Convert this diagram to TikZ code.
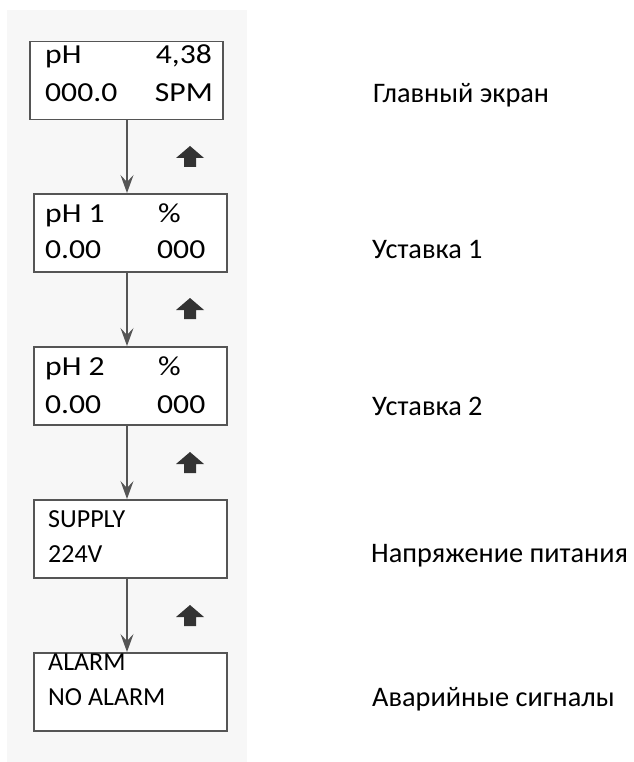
\documentclass[tikz,border=0pt]{standalone}
\usepackage{fontspec}
\setmainfont{Carlito}
\newfontfamily\widefont[FakeStretch=1.15]{Carlito}
\usetikzlibrary{arrows.meta}
\definecolor{boxline}{HTML}{555555}
\definecolor{bgfill}{HTML}{F7F7F7}
\tikzset{
  box/.style={draw=boxline, line width=1.5pt, fill=white, inner sep=0pt, minimum width=193pt, minimum height=78pt, anchor=north west},
  big/.style={inner sep=0pt, font=\widefont\fontsize{27.5}{33}\selectfont},
  small/.style={inner sep=0pt, font=\fontsize{26}{31}\selectfont},
  lab/.style={inner sep=0pt, anchor=base west, font=\fontsize{28.3}{34}\selectfont},
  darr/.style={draw=boxline, line width=1.2pt, -{Stealth[length=18pt, width=13pt, inset=7pt]}},
  uparrow/.pic={\fill[black!80] (0,-11) -- (14,1) -- (6,1) -- (6,10) -- (-6,10) -- (-6,1) -- (-14,1) -- cycle;}
}
\begin{document}
\begin{tikzpicture}[x=1pt, y=-1pt]
\useasboundingbox (0,0) rectangle (633,762);
\fill[bgfill] (7,10) rectangle (247,762);
% boxes
\node[box] (b1) at (29,41) {};
\node[box] (b2) at (33,193) {};
\node[box] (b3) at (33,346) {};
\node[box] (b4) at (33,499) {};
\node[box] (b5) at (33,652) {};
% box texts
\node[big, anchor=base west] (t1a) at (45,64) {pH};
\node[big, anchor=base east] (t1b) at (212,64) {4,38};
\node[big, anchor=base west] (t1c) at (45,102) {000.0};
\node[big, anchor=base east] (t1d) at (213,102) {SPM};
\node[big, anchor=base west] (t2a) at (45,222) {pH 1};
\node[big, anchor=base west] (t2b) at (158,222) {\%};
\node[big, anchor=base west] (t2c) at (45,258) {0.00};
\node[big, anchor=base west] (t2d) at (157,258) {000};
\node[big, anchor=base west] (t3a) at (45,375) {pH 2};
\node[big, anchor=base west] (t3b) at (158,375) {\%};
\node[big, anchor=base west] (t3c) at (45,413) {0.00};
\node[big, anchor=base west] (t3d) at (157,413) {000};
\node[small, anchor=base west] (t4a) at (48,527) {SUPPLY};
\node[small, anchor=base west] (t4b) at (48,562) {224V};
\node[small, anchor=base west] (t5a) at (48,670) {ALARM};
\node[small, anchor=base west] (t5b) at (48,705) {NO ALARM};
% right labels
\node[lab] (l1) at (373,103) {Главный экран};
\node[lab] (l2) at (372,258) {Уставка 1};
\node[lab] (l3) at (372,415) {Уставка 2};
\node[lab] (l4) at (371,562) {Напряжение питания};
\node[lab] (l5) at (372,706) {Аварийные сигналы};
% down connectors
\coordinate (xa) at (127,0);
\draw[darr] (b1.south -| xa) -- (b2.north -| xa);
\draw[darr] (b2.south -| xa) -- (b3.north -| xa);
\draw[darr] (b3.south -| xa) -- (b4.north -| xa);
\draw[darr] (b4.south -| xa) -- (b5.north -| xa);
% up arrows
\pic at (190,157) {uparrow};
\pic at (190,309) {uparrow};
\pic at (190,463) {uparrow};
\pic at (190,616) {uparrow};
\end{tikzpicture}
\end{document}
